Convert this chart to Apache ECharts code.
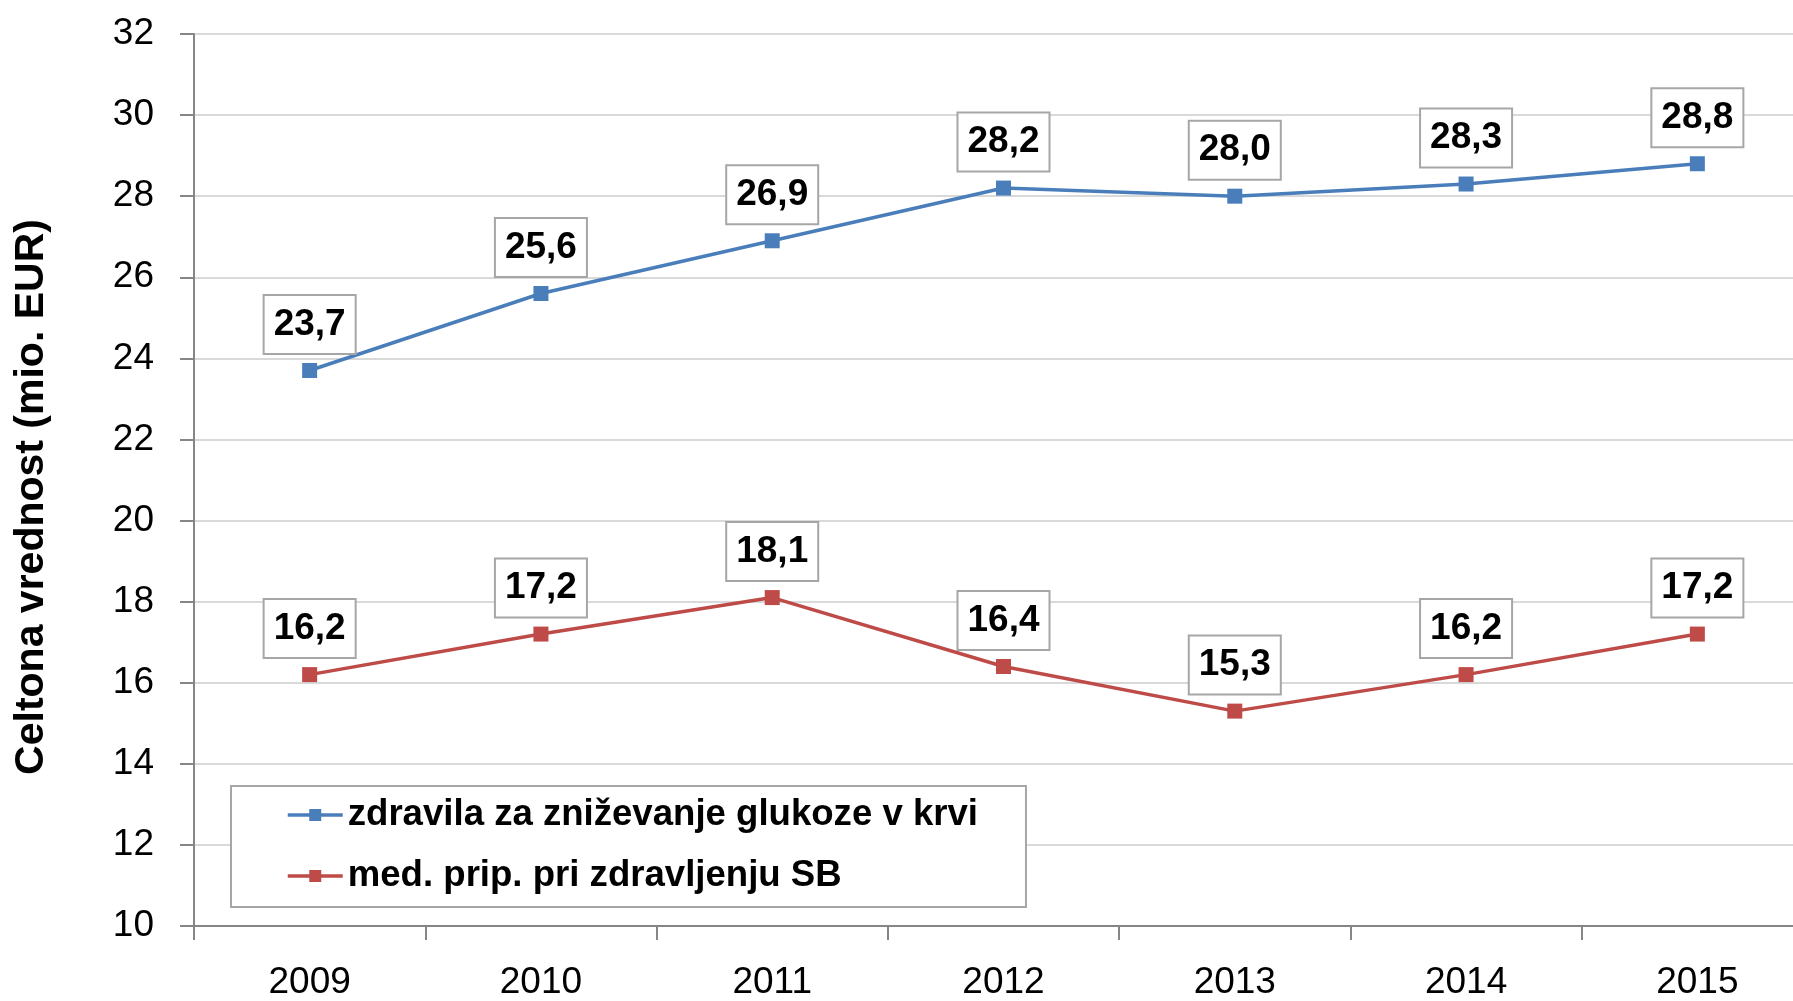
<!DOCTYPE html>
<html>
<head>
<meta charset="utf-8">
<script src="https://cdn.jsdelivr.net/npm/echarts@6/dist/echarts.min.js"></script>
<style>
  html, body { margin: 0; padding: 0; background: #fff; overflow: hidden; }
  /* graf je nekoliko širši od okna, desni rob je odrezan kot na izvirniku */
  #chart { width: 1813px; height: 1001px; }
</style>
</head>
<body>
<div id="chart"></div>
<script>
const years = ['2009', '2010', '2011', '2012', '2013', '2014', '2015'];
const glukoza = [23.7, 25.6, 26.9, 28.2, 28.0, 28.3, 28.8];
const sb = [16.2, 17.2, 18.1, 16.4, 15.3, 16.2, 17.2];
const seriesNames = ['zdravila za zniževanje glukoze v krvi', 'med. prip. pri zdravljenju SB'];
const yTicks = { min: 10, max: 32, step: 2 };

const font = '"Liberation Sans", Arial, sans-serif';

let chart = echarts.init(document.getElementById('chart'));

// oznake vrednosti z decimalno vejico
function fmt(p) {
  return p.value.toFixed(1).replace('.', ',');
}

function boxLabel() {
  return {
    show: true,
    position: 'top',
    distance: 10,
    formatter: fmt,
    fontFamily: font,
    fontWeight: 'bold',
    fontSize: 37,
    color: '#000',
    backgroundColor: '#fff',
    borderColor: '#a6a6a6',
    borderWidth: 2,
    padding: [10, 9]
  };
}

var option = {
  animation: false,
  color: ['#4a7ebb', '#be4b48'],
  grid: {
    left: 194,
    top: 34,
    bottom: 75,
    right: 0
  },
  legend: {
    orient: 'vertical',
    left: 231,
    top: 786,
    padding: [9, 48, 11, 55],
    itemGap: 21,
    itemWidth: 55,
    itemHeight: 15,
    backgroundColor: '#fff',
    borderColor: '#a6a6a6',
    borderWidth: 2,
    lineStyle: { width: 3.5 },
    textStyle: {
      fontFamily: font,
      fontWeight: 'bold',
      fontSize: 36.6,
      lineHeight: 40,
      color: '#000'
    },
    data: seriesNames
  },
  xAxis: {
    type: 'category',
    data: years,
    boundaryGap: true,
    axisLine: { lineStyle: { color: '#868686', width: 2 } },
    axisTick: { show: true, length: 14, lineStyle: { color: '#868686', width: 2 } },
    axisLabel: {
      margin: 38,
      fontFamily: font,
      fontSize: 37,
      color: '#000'
    }
  },
  yAxis: {
    type: 'value',
    min: yTicks.min,
    max: yTicks.max,
    interval: yTicks.step,
    name: 'Celtona vrednost (mio. EUR)',
    nameLocation: 'middle',
    nameGap: 142,
    nameTextStyle: {
      fontFamily: font,
      fontWeight: 'bold',
      fontSize: 41,
      color: '#000',
      padding: [0, 34, 0, 0]
    },
    axisLine: { show: true, lineStyle: { color: '#868686', width: 2 } },
    axisTick: { show: true, length: 14, lineStyle: { color: '#868686', width: 2 } },
    splitLine: { lineStyle: { color: '#d9d9d9', width: 2 } },
    axisLabel: {
      margin: 40,
      fontFamily: font,
      fontSize: 37,
      color: '#000'
    }
  },
  series: [{
      name: seriesNames[0],
      type: 'line',
      data: glukoza,
      symbol: 'rect',
      symbolSize: 15,
      lineStyle: { width: 3.5 },
      label: boxLabel()
    },
    {
      name: seriesNames[1],
      type: 'line',
      data: sb,
      symbol: 'rect',
      symbolSize: 15,
      lineStyle: { width: 3.5 },
      label: boxLabel()
    }
  ]
};

chart.setOption(option);
</script>
</body>
</html>
